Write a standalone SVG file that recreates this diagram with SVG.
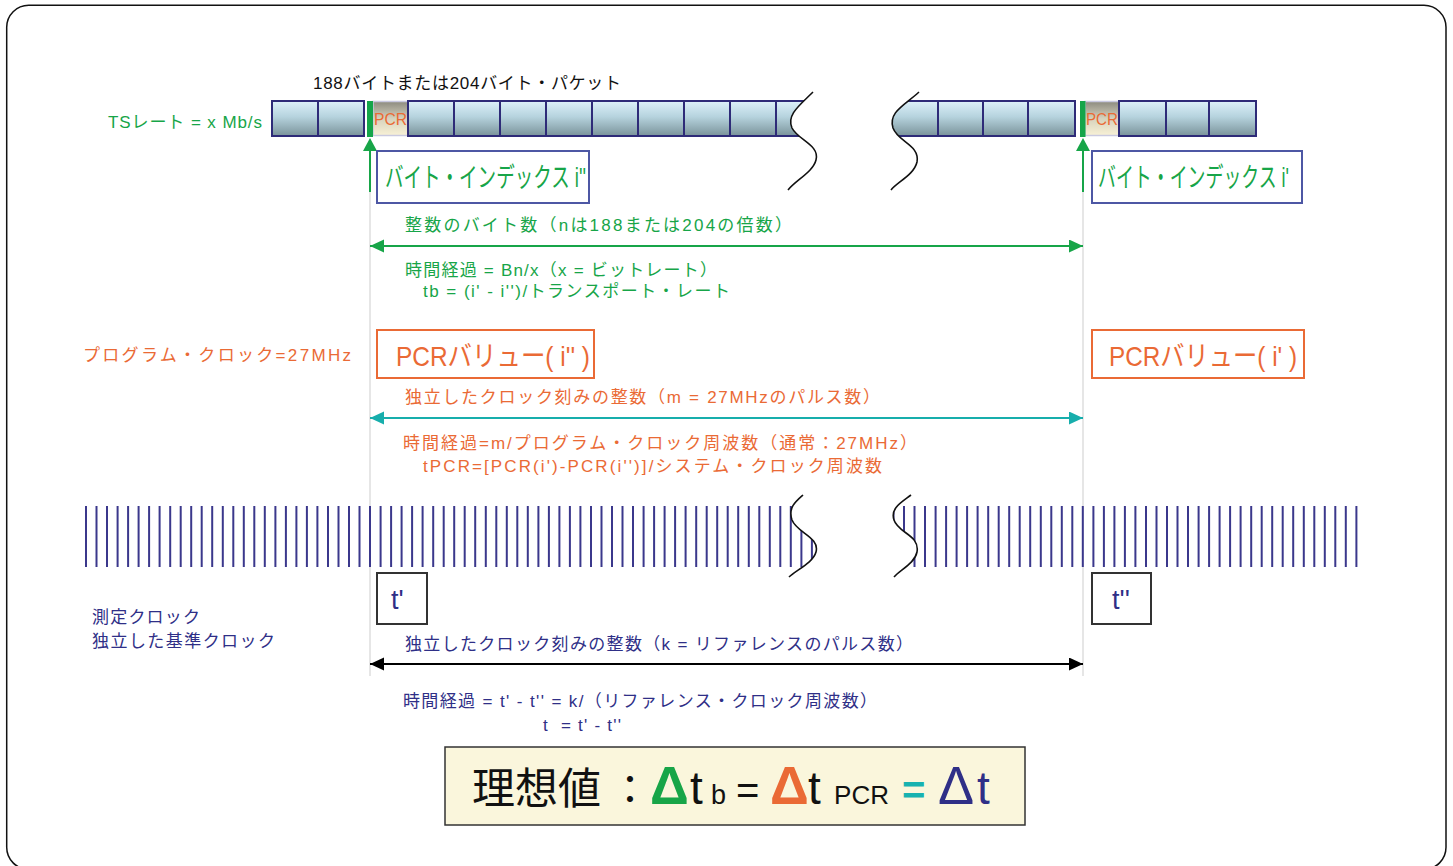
<svg xmlns="http://www.w3.org/2000/svg" width="1453" height="866" viewBox="0 0 1453 866">
<defs>
<style>
text{font-family:"Liberation Sans","Noto Sans CJK JP",sans-serif;}
.g{fill:#17a548;}
.o{fill:#ea6a35;}
.n{fill:#2f2f87;}
.k{fill:#111;}
.cell{fill:url(#cellGrad);stroke:#2e2b78;stroke-width:2;}
.pcr{fill:url(#pcrGrad);stroke:#c9c9e0;stroke-width:1.5;}
.gbar{fill:#15a54a;}
.guide{stroke:#d6d6d6;stroke-width:1.2;}
.wave{fill:none;stroke:#111;stroke-width:1.6;}
.clk{stroke:#3b388c;stroke-width:2;}
.ibox{fill:#fff;stroke:#4d57a4;stroke-width:2;}
.pbox{fill:#fff;stroke:#ea6a35;stroke-width:2;}
.tbox{fill:#fff;stroke:#333;stroke-width:2;}
</style>
<linearGradient id="cellGrad" x1="0" y1="0" x2="0" y2="1">
<stop offset="0" stop-color="#ddf1fa"/>
<stop offset="0.45" stop-color="#b6d3de"/>
<stop offset="1" stop-color="#7a939a"/>
</linearGradient>
<linearGradient id="pcrGrad" x1="0" y1="0" x2="0" y2="1">
<stop offset="0" stop-color="#8d8b7f"/>
<stop offset="0.5" stop-color="#d6d2bd"/>
<stop offset="1" stop-color="#f8f1d6"/>
</linearGradient>
<marker id="arrG" markerUnits="userSpaceOnUse" markerWidth="15" markerHeight="14" refX="14" refY="6.5" orient="auto-start-reverse"><path d="M0,0 L14,6.5 L0,13 Z" fill="#17a548"/></marker>
<marker id="arrC" markerUnits="userSpaceOnUse" markerWidth="15" markerHeight="14" refX="14" refY="6.5" orient="auto-start-reverse"><path d="M0,0 L14,6.5 L0,13 Z" fill="#17aeac"/></marker>
<marker id="arrK" markerUnits="userSpaceOnUse" markerWidth="15" markerHeight="14" refX="14" refY="6.5" orient="auto-start-reverse"><path d="M0,0 L14,6.5 L0,13 Z" fill="#000"/></marker>
<clipPath id="clipPL"><path d="M0,80 L813,80 L813,92 C800,105 786,115 792,128 C798,140 820,145 816,160 C813,172 796,180 788,190 L788,200 L0,200 Z"/></clipPath>
<clipPath id="clipPR"><path d="M1453,80 L919,80 L919,92 C905,105 888,112 893,128 C898,142 920,145 917,162 C914,175 897,182 891,190 L891,200 L1453,200 Z"/></clipPath>
<clipPath id="clipCL"><path d="M0,490 L803,490 L803,495 C795,502 788,508 792,520 C797,533 820,537 816,552 C813,563 796,570 789,577 L789,590 L0,590 Z"/></clipPath>
<clipPath id="clipCR"><path d="M1453,490 L911,490 L911,495 C902,502 890,508 894,520 C898,533 920,535 917,552 C915,563 900,570 894,577 L894,590 L1453,590 Z"/></clipPath>
</defs>

<rect id="frame" x="6.7" y="5.3" width="1439.3" height="864" rx="22" fill="#fff" stroke="#111" stroke-width="1.5"/>

<g id="guides">
<line class="guide" x1="370" y1="192" x2="370" y2="676"/>
<line class="guide" x1="1083" y1="192" x2="1083" y2="676"/>
</g>

<g id="packet-label">
<text x="313" y="89" font-size="17" class="k" textLength="308" lengthAdjust="spacing">188バイトまたは204バイト・パケット</text>
</g>
<g id="ts-rate">
<text x="108" y="128" font-size="17" class="g" textLength="154" lengthAdjust="spacing">TSレート = x Mb/s</text>
</g>

<g id="packets-left">
<rect class="cell" x="272" y="101" width="46" height="35"/>
<rect class="cell" x="318" y="101" width="46" height="35"/>
<rect class="pcr" x="373" y="101.5" width="35" height="34"/>
<text x="374" y="125" font-size="16" class="o" textLength="33" lengthAdjust="spacingAndGlyphs">PCR</text>
<rect class="gbar" x="367" y="101" width="6" height="36"/>
<g clip-path="url(#clipPL)">
<rect class="cell" x="408" y="101" width="46" height="35"/>
<rect class="cell" x="454" y="101" width="46" height="35"/>
<rect class="cell" x="500" y="101" width="46" height="35"/>
<rect class="cell" x="546" y="101" width="46" height="35"/>
<rect class="cell" x="592" y="101" width="46" height="35"/>
<rect class="cell" x="638" y="101" width="46" height="35"/>
<rect class="cell" x="684" y="101" width="46" height="35"/>
<rect class="cell" x="730" y="101" width="46" height="35"/>
<rect class="cell" x="776" y="101" width="60" height="35"/>
</g>
</g>

<g id="packets-right">
<g clip-path="url(#clipPR)">
<rect class="cell" x="870" y="101" width="68" height="35"/>
<rect class="cell" x="938" y="101" width="45" height="35"/>
<rect class="cell" x="983" y="101" width="45" height="35"/>
<rect class="cell" x="1028" y="101" width="47" height="35"/>
</g>
<rect class="pcr" x="1085" y="101.5" width="34" height="34"/>
<text x="1086" y="125" font-size="16" class="o" textLength="32" lengthAdjust="spacingAndGlyphs">PCR</text>
<rect class="gbar" x="1080" y="101" width="5.5" height="36"/>
<rect class="cell" x="1119" y="101" width="47" height="35"/>
<rect class="cell" x="1166" y="101" width="43" height="35"/>
<rect class="cell" x="1209" y="101" width="47" height="35"/>
</g>

<g id="breaks">
<path class="wave" d="M813,92 C800,105 786,115 792,128 C798,140 820,145 816,160 C813,172 796,180 788,190"/>
<path class="wave" d="M919,92 C905,105 888,112 893,128 C898,142 920,145 917,162 C914,175 897,182 891,190"/>
</g>

<g id="index-pointers">
<polygon points="370,138 363,151 377,151" fill="#17a548"/>
<line x1="370" y1="150" x2="370" y2="192" stroke="#17a548" stroke-width="2"/>
<polygon points="1083,138 1076,151 1090,151" fill="#17a548"/>
<line x1="1083" y1="150" x2="1083" y2="192" stroke="#17a548" stroke-width="2"/>
</g>

<g id="byte-index-i2">
<rect class="ibox" x="377" y="151" width="212" height="52"/>
<text x="385" y="187" font-size="27" class="g" textLength="201" lengthAdjust="spacingAndGlyphs">バイト・インデックス i''</text>
</g>
<g id="byte-index-i1">
<rect class="ibox" x="1092" y="151" width="210" height="52"/>
<text x="1098" y="187" font-size="27" class="g" textLength="191" lengthAdjust="spacingAndGlyphs">バイト・インデックス i'</text>
</g>

<g id="connectors">
<line x1="370" y1="246" x2="1083" y2="246" stroke="#17a548" stroke-width="2" marker-start="url(#arrG)" marker-end="url(#arrG)"/>
<line x1="370" y1="418" x2="1083" y2="418" stroke="#17aeac" stroke-width="2" marker-start="url(#arrC)" marker-end="url(#arrC)"/>
<line x1="370" y1="664" x2="1083" y2="664" stroke="#000" stroke-width="2" marker-start="url(#arrK)" marker-end="url(#arrK)"/>
</g>

<g id="byte-texts">
<text x="405" y="231" font-size="17" class="g" textLength="387" lengthAdjust="spacing">整数のバイト数（nは188または204の倍数）</text>
<text x="405" y="276" font-size="17" class="g" textLength="312" lengthAdjust="spacing">時間経過 = Bn/x（x = ビットレート）</text>
<text x="423" y="297" font-size="17" class="g" textLength="307" lengthAdjust="spacing">tb = (i' - i'')/トランスポート・レート</text>
</g>

<g id="program-clock">
<text x="83" y="361" font-size="17" class="o" textLength="268" lengthAdjust="spacing">プログラム・クロック=27MHz</text>
</g>
<g id="pcr-i2">
<rect class="pbox" x="377" y="330" width="217" height="48"/>
<text x="396" y="366" font-size="28" class="o" textLength="194" lengthAdjust="spacingAndGlyphs">PCRバリュー( i'' )</text>
</g>
<g id="pcr-i1">
<rect class="pbox" x="1092" y="330" width="212" height="48"/>
<text x="1109" y="366" font-size="28" class="o" textLength="188" lengthAdjust="spacingAndGlyphs">PCRバリュー( i' )</text>
</g>

<g id="pcr-texts">
<text x="405" y="403" font-size="17" class="o" textLength="475" lengthAdjust="spacing">独立したクロック刻みの整数（m = 27MHzのパルス数）</text>
<text x="403" y="449" font-size="17" class="o" textLength="514" lengthAdjust="spacing">時間経過=m/プログラム・クロック周波数（通常：27MHz）</text>
<text x="423" y="472" font-size="17" class="o" textLength="459" lengthAdjust="spacing">tPCR=[PCR(i')-PCR(i'')]/システム・クロック周波数</text>
</g>

<g id="clock-left" clip-path="url(#clipCL)">
<path class="clk" d="M86,506V567M96.5,506V567M107,506V567M117.6,506V567M128.1,506V567M138.6,506V567M149.1,506V567M159.6,506V567M170.2,506V567M180.7,506V567M191.2,506V567M201.7,506V567M212.2,506V567M222.8,506V567M233.3,506V567M243.8,506V567M254.3,506V567M264.8,506V567M275.4,506V567M285.9,506V567M296.4,506V567M306.9,506V567M317.4,506V567M328,506V567M338.5,506V567M349,506V567M359.5,506V567M370,506V567M380.6,506V567M391.1,506V567M401.6,506V567M412.1,506V567M422.6,506V567M433.2,506V567M443.7,506V567M454.2,506V567M464.7,506V567M475.2,506V567M485.8,506V567M496.3,506V567M506.8,506V567M517.3,506V567M527.8,506V567M538.4,506V567M548.9,506V567M559.4,506V567M569.9,506V567M580.4,506V567M591,506V567M601.5,506V567M612,506V567M622.5,506V567M633,506V567M643.6,506V567M654.1,506V567M664.6,506V567M675.1,506V567M685.6,506V567M696.2,506V567M706.7,506V567M717.2,506V567M727.7,506V567M738.2,506V567M748.8,506V567M759.3,506V567M769.8,506V567M780.3,506V567M790.8,506V567M801.4,506V567M811.9,506V567"/>
</g>
<g id="clock-right" clip-path="url(#clipCR)">
<path class="clk" d="M893.5,506V567M904,506V567M914.5,506V567M925,506V567M935.6,506V567M946.1,506V567M956.6,506V567M967.1,506V567M977.6,506V567M988.2,506V567M998.7,506V567M1009.2,506V567M1019.7,506V567M1030.2,506V567M1040.8,506V567M1051.3,506V567M1061.8,506V567M1072.3,506V567M1082.8,506V567M1093.4,506V567M1103.9,506V567M1114.4,506V567M1124.9,506V567M1135.4,506V567M1146,506V567M1156.5,506V567M1167,506V567M1177.5,506V567M1188,506V567M1198.6,506V567M1209.1,506V567M1219.6,506V567M1230.1,506V567M1240.6,506V567M1251.2,506V567M1261.7,506V567M1272.2,506V567M1282.7,506V567M1293.2,506V567M1303.8,506V567M1314.3,506V567M1324.8,506V567M1335.3,506V567M1345.8,506V567M1356.4,506V567"/>
</g>
<g id="clock-breaks">
<path class="wave" d="M803,495 C795,502 788,508 792,520 C797,533 820,537 816,552 C813,563 796,570 789,577"/>
<path class="wave" d="M911,495 C902,502 890,508 894,520 C898,533 920,535 917,552 C915,563 900,570 894,577"/>
</g>

<g id="t1">
<rect class="tbox" x="377" y="573" width="50" height="51"/>
<text x="391" y="609" font-size="27" class="n">t'</text>
</g>
<g id="t2">
<rect class="tbox" x="1092" y="573" width="59" height="51"/>
<text x="1112" y="609" font-size="27" class="n">t''</text>
</g>

<g id="ref-clock">
<text x="92" y="623" font-size="17" class="n" textLength="108" lengthAdjust="spacing">測定クロック</text>
<text x="92" y="647" font-size="17" class="n" textLength="183" lengthAdjust="spacing">独立した基準クロック</text>
</g>

<g id="ref-texts">
<text x="405" y="650" font-size="17" class="n" textLength="508" lengthAdjust="spacing">独立したクロック刻みの整数（k = リファレンスのパルス数）</text>
<text x="403" y="707" font-size="17" class="n" textLength="474" lengthAdjust="spacing">時間経過 = t' - t'' = k/（リファレンス・クロック周波数）</text>
<text x="543" y="731" font-size="17" class="n" xml:space="preserve" textLength="78" lengthAdjust="spacing">t  = t' - t''</text>
</g>

<g id="ideal">
<rect x="445" y="747" width="580" height="78" fill="#faf6dc" stroke="#333" stroke-width="1.5"/>
<text x="472" y="804" font-size="43" class="k">理想値</text>
<text x="610" y="804" font-size="40" class="k">：</text>
<text x="650" y="804" font-size="54" font-weight="bold" class="g">Δ</text>
<text x="690" y="804" font-size="46" class="k">t</text>
<text x="711" y="804" font-size="27" class="k">b</text>
<text x="736" y="804" font-size="40" class="k">=</text>
<text x="770" y="804" font-size="54" font-weight="bold" class="o">Δ</text>
<text x="808" y="804" font-size="46" class="k">t</text>
<text x="834" y="804" font-size="26" class="k" textLength="55" lengthAdjust="spacing">PCR</text>
<text x="902" y="804" font-size="40" font-weight="bold" fill="#17b2b0">=</text>
<text x="938" y="804" font-size="54" class="n">Δ</text>
<text x="977" y="804" font-size="46" class="n">t</text>
</g>
</svg>
